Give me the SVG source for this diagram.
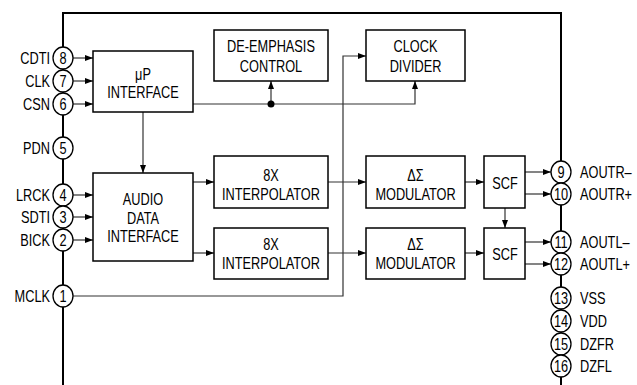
<svg xmlns="http://www.w3.org/2000/svg" width="637" height="385" viewBox="0 0 637 385">
<style>
.box{fill:#fff;stroke:#000;stroke-width:1.5}
.frame{fill:none;stroke:#000;stroke-width:2}
.pin{fill:#fff;stroke:#000;stroke-width:1.3}
.w{fill:none;stroke:#333;stroke-width:1.2}
.t{font-family:"Liberation Sans",Arial,sans-serif;font-size:17px;fill:#000;text-anchor:middle}
.l{font-family:"Liberation Sans",Arial,sans-serif;font-size:17px;fill:#000;text-anchor:end}
.r{font-family:"Liberation Sans",Arial,sans-serif;font-size:17px;fill:#000;text-anchor:start}
</style>
<defs>
<marker id="ah" viewBox="0 0 8 6" refX="8" refY="3" markerWidth="8" markerHeight="6" markerUnits="userSpaceOnUse" orient="auto">
<path d="M0,0 L8,3 L0,6 Z" fill="#000"/>
</marker>
</defs>
<rect width="637" height="385" fill="#fff"/>
<g id="frame">
<path class="frame" d="M63,385 V13 H561 V385"/>
</g>
<g id="connectors">
<path class="w" d="M73,58 H93" marker-end="url(#ah)"/>
<path class="w" d="M73,81 H93" marker-end="url(#ah)"/>
<path class="w" d="M73,104 H93" marker-end="url(#ah)"/>
<path class="w" d="M73,195 H93" marker-end="url(#ah)"/>
<path class="w" d="M73,217 H93" marker-end="url(#ah)"/>
<path class="w" d="M73,240 H93" marker-end="url(#ah)"/>
<path class="w" d="M193,104 H415 V81" marker-end="url(#ah)"/>
<path class="w" d="M271,104 V81" marker-end="url(#ah)"/>
<circle cx="271" cy="104" r="3.5" fill="#000"/>
<path class="w" d="M143,112 V173" marker-end="url(#ah)"/>
<path class="w" d="M193,182 H214" marker-end="url(#ah)"/>
<path class="w" d="M193,253 H214" marker-end="url(#ah)"/>
<path class="w" d="M328,182 H366" marker-end="url(#ah)"/>
<path class="w" d="M328,253 H366" marker-end="url(#ah)"/>
<path class="w" d="M73,296 H343 V56 H366" marker-end="url(#ah)"/>
<path class="w" d="M465,182 H484" marker-end="url(#ah)"/>
<path class="w" d="M465,253 H484" marker-end="url(#ah)"/>
<path class="w" d="M505,208 V228" marker-end="url(#ah)"/>
<path class="w" d="M525,172 H551" marker-end="url(#ah)"/>
<path class="w" d="M525,194 H551" marker-end="url(#ah)"/>
<path class="w" d="M525,242 H551" marker-end="url(#ah)"/>
<path class="w" d="M525,264 H551" marker-end="url(#ah)"/>
</g>
<g id="up-interface">
<rect class="box" x="93" y="51" width="100" height="61"/>
<text class="t" transform="translate(143,79.5) scale(0.75,1)">μP</text>
<text class="t" transform="translate(143,97.5) scale(0.75,1)">INTERFACE</text>
</g>
<g id="de-emphasis">
<rect class="box" x="214" y="30" width="114" height="51"/>
<text class="t" transform="translate(271,52) scale(0.75,1)">DE-EMPHASIS</text>
<text class="t" transform="translate(271,72) scale(0.75,1)">CONTROL</text>
</g>
<g id="clock-divider">
<rect class="box" x="366" y="30" width="99" height="51"/>
<text class="t" transform="translate(415.5,52) scale(0.75,1)">CLOCK</text>
<text class="t" transform="translate(415.5,72) scale(0.75,1)">DIVIDER</text>
</g>
<g id="audio-data-interface">
<rect class="box" x="93" y="173" width="100" height="88"/>
<text class="t" transform="translate(143,205) scale(0.75,1)">AUDIO</text>
<text class="t" transform="translate(143,223.5) scale(0.75,1)">DATA</text>
<text class="t" transform="translate(143,242) scale(0.75,1)">INTERFACE</text>
</g>
<g id="interp-r">
<rect class="box" x="214" y="156" width="114" height="52"/>
<text class="t" transform="translate(271,181) scale(0.75,1)">8X</text>
<text class="t" transform="translate(271,199.5) scale(0.75,1)">INTERPOLATOR</text>
</g>
<g id="interp-l">
<rect class="box" x="214" y="228" width="114" height="51"/>
<text class="t" transform="translate(271,250) scale(0.75,1)">8X</text>
<text class="t" transform="translate(271,268.5) scale(0.75,1)">INTERPOLATOR</text>
</g>
<g id="mod-r">
<rect class="box" x="366" y="156" width="99" height="52"/>
<text class="t" transform="translate(415.5,181) scale(0.75,1)">ΔΣ</text>
<text class="t" transform="translate(415.5,199.5) scale(0.75,1)">MODULATOR</text>
</g>
<g id="mod-l">
<rect class="box" x="366" y="228" width="99" height="51"/>
<text class="t" transform="translate(415.5,250) scale(0.75,1)">ΔΣ</text>
<text class="t" transform="translate(415.5,268.5) scale(0.75,1)">MODULATOR</text>
</g>
<g id="scf-r">
<rect class="box" x="484" y="156" width="41" height="52"/>
<text class="t" transform="translate(505,189) scale(0.75,1)">SCF</text>
</g>
<g id="scf-l">
<rect class="box" x="484" y="228" width="41" height="51"/>
<text class="t" transform="translate(505,260) scale(0.75,1)">SCF</text>
</g>
<g id="pins-left">
<g id="pin8"><ellipse class="pin" cx="63" cy="58" rx="10" ry="11"/><text class="t" transform="translate(63,64) scale(0.75,1)">8</text><text class="l" transform="translate(50,64) scale(0.75,1)">CDTI</text></g>
<g id="pin7"><ellipse class="pin" cx="63" cy="81" rx="10" ry="11"/><text class="t" transform="translate(63,87) scale(0.75,1)">7</text><text class="l" transform="translate(50,87) scale(0.75,1)">CLK</text></g>
<g id="pin6"><ellipse class="pin" cx="63" cy="104" rx="10" ry="11"/><text class="t" transform="translate(63,110) scale(0.75,1)">6</text><text class="l" transform="translate(50,110) scale(0.75,1)">CSN</text></g>
<g id="pin5"><ellipse class="pin" cx="63" cy="148" rx="10" ry="11"/><text class="t" transform="translate(63,154) scale(0.75,1)">5</text><text class="l" transform="translate(50,154) scale(0.75,1)">PDN</text></g>
<g id="pin4"><ellipse class="pin" cx="63" cy="195" rx="10" ry="11"/><text class="t" transform="translate(63,201) scale(0.75,1)">4</text><text class="l" transform="translate(50,201) scale(0.75,1)">LRCK</text></g>
<g id="pin3"><ellipse class="pin" cx="63" cy="217" rx="10" ry="11"/><text class="t" transform="translate(63,223) scale(0.75,1)">3</text><text class="l" transform="translate(50,223) scale(0.75,1)">SDTI</text></g>
<g id="pin2"><ellipse class="pin" cx="63" cy="240" rx="10" ry="11"/><text class="t" transform="translate(63,246) scale(0.75,1)">2</text><text class="l" transform="translate(50,246) scale(0.75,1)">BICK</text></g>
<g id="pin1"><ellipse class="pin" cx="63" cy="296" rx="10" ry="11"/><text class="t" transform="translate(63,302) scale(0.75,1)">1</text><text class="l" transform="translate(50,302) scale(0.75,1)">MCLK</text></g>
</g>
<g id="pins-right">
<g id="pin9"><ellipse class="pin" cx="561" cy="172" rx="10" ry="11"/><text class="t" transform="translate(561,178) scale(0.75,1)">9</text><text class="r" transform="translate(580,178) scale(0.75,1)">AOUTR–</text></g>
<g id="pin10"><ellipse class="pin" cx="561" cy="194" rx="10" ry="11"/><text class="t" transform="translate(561,200) scale(0.75,1)">10</text><text class="r" transform="translate(580,200) scale(0.75,1)">AOUTR+</text></g>
<g id="pin11"><ellipse class="pin" cx="561" cy="242" rx="10" ry="11"/><text class="t" transform="translate(561,248) scale(0.75,1)">11</text><text class="r" transform="translate(580,248) scale(0.75,1)">AOUTL–</text></g>
<g id="pin12"><ellipse class="pin" cx="561" cy="264" rx="10" ry="11"/><text class="t" transform="translate(561,270) scale(0.75,1)">12</text><text class="r" transform="translate(580,270) scale(0.75,1)">AOUTL+</text></g>
<g id="pin13"><ellipse class="pin" cx="561" cy="298" rx="10" ry="11"/><text class="t" transform="translate(561,304) scale(0.75,1)">13</text><text class="r" transform="translate(580,304) scale(0.75,1)">VSS</text></g>
<g id="pin14"><ellipse class="pin" cx="561" cy="321" rx="10" ry="11"/><text class="t" transform="translate(561,327) scale(0.75,1)">14</text><text class="r" transform="translate(580,327) scale(0.75,1)">VDD</text></g>
<g id="pin15"><ellipse class="pin" cx="561" cy="344" rx="10" ry="11"/><text class="t" transform="translate(561,350) scale(0.75,1)">15</text><text class="r" transform="translate(580,350) scale(0.75,1)">DZFR</text></g>
<g id="pin16"><ellipse class="pin" cx="561" cy="366" rx="10" ry="11"/><text class="t" transform="translate(561,372) scale(0.75,1)">16</text><text class="r" transform="translate(580,372) scale(0.75,1)">DZFL</text></g>
</g>
</svg>
